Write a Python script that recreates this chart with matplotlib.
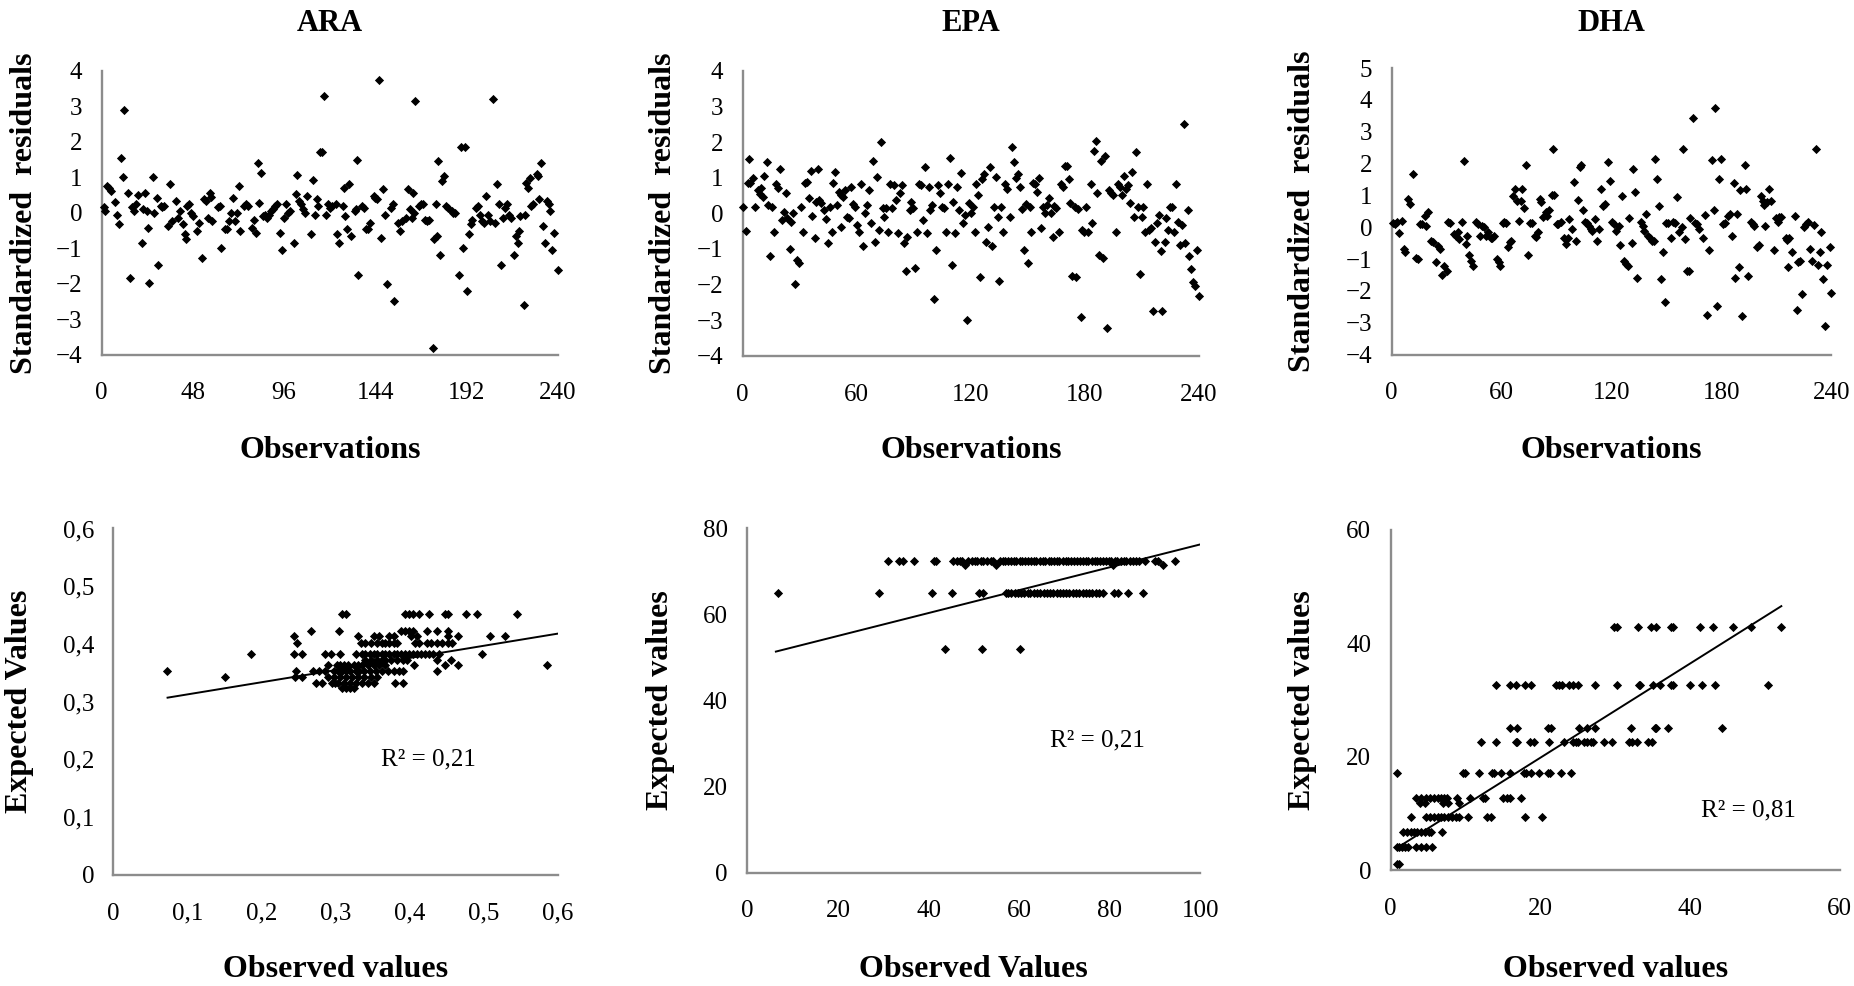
import numpy as np
import matplotlib
matplotlib.use("Agg")
import matplotlib.pyplot as plt
from matplotlib.ticker import FuncFormatter

plt.rcParams['font.family'] = ['Liberation Serif', 'DejaVu Serif']

# ---------------- standardized residuals (top row) ----------------
ara_obs = [1, 2, 3, 4, 5, 7, 8, 9, 10, 11,
           12, 14, 15, 16, 17, 18, 19, 21, 22, 23,
           24, 24.5, 25, 27, 27.5, 29, 29.5, 31, 32, 33,
           35, 36, 37, 39, 40, 41, 43, 44, 44.5, 45,
           46, 47, 48, 50, 51, 53, 54, 55, 56, 57,
           57.5, 58, 61, 62, 63, 65, 66, 67, 68, 69,
           70, 71, 72, 73, 75, 76, 77, 79, 80, 81,
           82, 83, 84, 85, 86, 87, 88, 89, 90, 91,
           92, 94, 95, 96, 97, 98, 99, 101, 102, 103,
           104, 105, 106, 107, 108, 110, 111, 112, 113, 114,
           115, 116, 117, 118, 119, 120, 121, 123, 124, 125,
           127, 127.5, 128, 129, 130, 131, 133, 134, 134.5, 135,
           137, 138, 139, 140, 141, 143, 144, 145, 146, 147,
           148, 149, 150, 152, 153, 154, 156, 157, 158, 160,
           161, 162, 163, 163.5, 164, 165, 167, 168, 169, 170,
           171, 172, 174, 175, 176, 176.5, 177, 178, 179, 180,
           181, 182, 184, 185, 186, 188, 189, 190, 191, 192,
           193, 194, 195, 197, 198, 199, 200, 201, 202, 203,
           204, 206, 207, 208, 209, 210, 211, 212, 213, 214,
           215, 217, 218, 219, 219.5, 220, 222, 222.5, 223, 224,
           225, 226, 227, 229, 229.5, 230, 231, 232, 233, 234,
           235, 236, 237, 238, 240]
ara_res = [0.15, 0.05, 0.75, 0.7, 0.6, 0.3, -0.05, -0.33, 1.55, 1.0,
           2.9, 0.55, -1.85, 0.15, 0.05, 0.25, 0.5, -0.85, 0.1, 0.55,
           0.05, -0.42, -1.98, 1.0, 0.0, 0.42, -1.46, 0.2, 0.15, 0.2,
           -0.38, 0.8, -0.24, 0.33, -0.14, 0.05, -0.33, -0.6, -0.75, 0.2,
           0.24, 0.0, -0.1, -0.52, -0.28, -1.27, 0.38, 0.33, -0.14, 0.55,
           0.45, -0.24, 0.15, 0.2, -0.99, -0.47, -0.47, -0.24, 0.0, 0.42,
           -0.24, 0.0, 0.75, -0.52, 0.2, 0.24, 0.2, -0.42, -0.19, -0.57,
           1.41, 0.28, 1.13, -0.1, -0.05, -0.15, -0.05, 0.05, 0.1, 0.2,
           0.24, -0.57, -1.04, -0.14, 0.24, 0.0, 0.05, -0.85, 0.52, 1.06,
           0.33, 0.24, 0.1, 0.0, 0.47, -0.61, 0.92, -0.05, 0.38, 0.2,
           1.7, 1.7, 3.3, -0.05, 0.24, 0.14, 0.2, 0.24, -0.61, -0.85,
           0.2, 0.71, -0.1, -0.47, 0.8, -0.66, 0.05, 0.1, 1.5, -1.75,
           0.2, 0.14, -0.47, -0.47, -0.28, 0.47, 0.42, 0.38, 3.75, -0.71,
           0.66, -0.05, -2.0, 0.14, 0.24, -2.5, -0.28, -0.52, -0.24, -0.14,
           0.66, 0.1, -0.14, 0.57, 0.0, 3.15, 0.2, 0.24, 0.24, -0.19,
           -0.24, -0.19, -3.8, -0.75, 0.24, -0.66, 1.46, -1.18, 0.9, 1.04,
           0.2, 0.14, 0.05, 0.0, 0.0, -1.75, 1.85, -0.99, 1.85, -2.2,
           -0.61, -0.33, -0.19, 0.14, 0.2, -0.05, -0.24, -0.28, 0.47, -0.05,
           -0.24, 3.2, -0.28, 0.8, 0.24, -1.46, -0.14, 0.14, 0.24, -0.05,
           -0.14, -1.18, -0.66, -0.85, -0.52, -0.1, -2.59, -0.05, 0.85, 0.7,
           0.99, 0.2, 0.24, 1.1, 1.04, 0.38, 1.41, -0.38, -0.85, 0.33,
           0.24, 0.05, -1.04, -0.57, -1.6]

epa_obs = [0.4, 1.6, 3, 4, 3.6, 5.4, 6.7, 8, 9, 9.7,
           10.7, 11.5, 12.7, 13.5, 14.5, 15.7, 16.7, 17.5, 18.6, 19.8,
           20.6, 21.6, 22.8, 23.4, 24.8, 25.6, 26.8, 27.6, 28.8, 29.6,
           30.9, 31.9, 32.7, 33.7, 34.7, 35.9, 36.7, 37.9, 38.7, 39.7,
           40.3, 41.3, 43, 43.8, 44.8, 45.8, 46.8, 47.8, 48.8, 49.8,
           50.8, 51.8, 52.8, 53.8, 51.8, 55, 56, 57, 58, 59,
           60, 61, 62.5, 63.5, 64.5, 65.5, 66.6, 67.6, 68.6, 69.6,
           70.6, 71.6, 72.6, 73.6, 74.6, 75.6, 76.6, 77.7, 78.7, 79.7,
           80.7, 81.9, 82.7, 83.7, 84.7, 85.7, 86.7, 87.8, 88.8, 89.8,
           90.8, 91.8, 92.8, 93.8, 94.8, 95.8, 96.8, 97.8, 98.8, 99.8,
           100.9, 101.9, 102.9, 103.9, 104.9, 105.9, 106.9, 107.9, 108.9, 109.9,
           110.9, 111.9, 112.9, 114, 115, 116, 117, 118, 119, 120,
           121, 122, 123, 124, 125, 126, 127, 128, 129, 130,
           131.1, 132.1, 133.1, 134.1, 135.1, 136.1, 137.1, 138.1, 139.2, 140.8,
           141.6, 142.6, 143.8, 144.8, 145.8, 146.8, 147.8, 148.9, 149.9, 150.9,
           151.9, 152.9, 153.9, 154.9, 155.9, 156.9, 157.9, 158.9, 160, 161,
           162, 163, 164, 165, 166.4, 167.4, 168.4, 169.4, 170.4, 171.4,
           172.4, 173.4, 174.9, 175.5, 176.5, 177.9, 178.5, 179.5, 180.5, 181.5,
           183, 184, 185, 185.6, 186.6, 187.6, 188.6, 189.6, 190.6, 191.6,
           192.6, 193.6, 195, 196.6, 197.6, 198.7, 199.7, 200.7, 201.7, 202.7,
           203.7, 204.7, 205.7, 206.7, 207.7, 208.8, 209.8, 210.8, 211.8, 212.8,
           213.8, 214.8, 215.8, 216.8, 217.8, 218.8, 219.8, 220.8, 221.9, 222.9,
           223.9, 224.9, 225.9, 226.9, 227.9, 228.9, 229.9, 230.9, 231.9, 232.9,
           234, 235, 236, 237, 238, 239, 240]
epa_res = [0.17, -0.5, 0.85, 0.85, 1.53, 1.0, 0.19, 0.65, 0.55, 0.7,
           0.46, 1.06, 1.45, 0.23, -1.19, 0.19, -0.51, 0.83, 0.72, 1.25,
           -0.2, 0.05, 0.57, -0.14, -0.99, -0.23, 0.0, -1.99, -1.3, -1.39,
           0.17, -0.51, 0.85, 0.88, 0.42, 1.2, -0.06, -0.68, 0.31, 1.25,
           0.37, 0.28, 0.09, -0.17, -0.83, 0.19, -0.51, 0.85, 1.16, 0.23,
           0.6, 0.51, 0.46, 0.65, -0.37, -0.09, -0.14, 0.74, 0.26, 0.19,
           -0.32, -0.51, 0.83, -0.93, 0.0, 0.23, 0.65, -0.28, 1.48, -0.79,
           1.02, -0.46, 1.99, 0.14, -0.09, 0.14, -0.51, 0.83, 0.14, 0.79,
           0.37, -0.56, 0.56, 0.79, -0.83, -1.62, -0.65, 0.09, 0.32, 0.14,
           -1.53, -0.51, 0.83, 0.79, -0.19, 1.3, -0.56, 0.74, 0.09, 0.23,
           -2.39, -1.02, 0.79, 0.56, 0.19, 0.14, -0.51, 0.83, 1.56, -1.46,
           0.32, -0.56, 0.74, 0.09, 1.13, -0.28, -0.05, -3.0, 0.28, 0.0,
           0.19, -0.51, 0.83, 0.51, -1.8, 0.97, 1.11, -0.79, -0.37, 1.3,
           -0.93, 0.19, 1.02, -0.09, -1.9, 0.19, -0.51, 0.83, 0.69, -0.09,
           1.85, 1.44, 0.99, 1.11, 0.74, 0.11, -1.02, 0.26, -1.39, 0.19,
           -0.51, 0.85, 0.83, 0.6, 0.99, -0.42, 0.19, 0.0, 0.23, 0.42,
           0.0, -0.65, 0.2, 0.14, -0.51, 0.83, 0.74, 1.34, 1.34, 0.97,
           0.28, -1.76, 0.19, -1.8, 0.11, -2.92, -0.46, -0.51, 0.19, -0.51,
           0.83, -0.28, 1.76, 2.02, 0.56, -1.16, 1.48, -1.25, 1.62, -3.22,
           0.65, 0.56, 0.51, -0.51, 0.83, 0.74, 0.51, 1.06, 0.69, 0.79,
           0.28, 1.16, -0.09, 1.71, 0.19, -1.69, -0.09, 0.19, -0.51, 0.83,
           -0.46, -0.42, -2.73, -0.79, -0.26, -0.05, -1.06, -2.73, -0.79, -0.14,
           -0.46, 0.19, 0.19, -0.51, 0.83, -0.23, -0.88, -0.32, 2.52, -0.83,
           0.09, -1.2, -1.57, -1.94, -2.04, -1.02, -2.33]

dha_obs = [0.6, 2, 3, 4, 5.4, 6.6, 7.4, 9, 10, 11.4,
           13.4, 14.4, 15.4, 16.6, 18, 19, 20, 21.6, 22.6, 24,
           25.4, 26.4, 27.4, 28.6, 30, 31, 32, 34, 35, 36,
           37, 38.4, 39.4, 40.4, 41.4, 42.4, 43.4, 44.4, 46, 47,
           48.4, 49.6, 50.6, 51.6, 52.6, 54, 55, 56, 57.4, 58.4,
           59.4, 60.6, 61.6, 62.6, 63.4, 64.6, 65.4, 66.4, 67.4, 68.6,
           69.4, 70.4, 71.4, 72.4, 73.6, 74.6, 75.6, 76.6, 78, 78.6,
           80, 81, 81.6, 82.4, 84, 85, 86, 87.4, 88.6, 88,
           90, 91, 92.6, 94, 95, 96, 97, 98.4, 99.4, 100.6,
           101.6, 102.6, 103.4, 104.6, 105.6, 106.6, 107.6, 108.6, 109.6, 111,
           112, 113, 114.4, 115.4, 116.6, 118, 119.4, 120.4, 121.4, 122.6,
           124, 124.6, 126, 127, 128, 129, 129.6, 131, 132, 133,
           134, 136, 137, 138, 139, 140, 141, 142, 143, 144,
           145, 146, 147, 148, 149, 150, 151, 152.6, 153.6, 154.6,
           156, 157, 158.4, 159, 160, 161, 162.4, 162.6, 164.6, 165.6,
           166.6, 168, 170, 171, 172, 173, 175, 176, 176.6, 177.4,
           178.6, 179.6, 181, 182, 183.4, 184.6, 186, 187, 187.6, 188.6,
           189.4, 190.4, 191.4, 192.6, 193.6, 194.6, 196, 197, 198, 199.6,
           200.6, 201.6, 202.6, 203, 204, 205, 206, 207, 208.6, 209.6,
           210.6, 211.4, 212.6, 215, 216, 217, 216.5, 218.6, 220, 221,
           222, 223, 224, 225, 226, 227, 228.6, 229.6, 230.6, 231.6,
           232.6, 233.6, 234.6, 235.6, 236.6, 237.6, 239, 239.6]
dha_res = [0.14, 0.1, 0.16, -0.19, 0.21, -0.68, -0.76, 0.89, 0.74, 1.68,
           -0.95, -1.0, 0.1, 0.1, 0.37, 0.05, 0.49, -0.42, -0.47, -1.1,
           -0.58, -0.68, -1.5, -1.2, -1.37, 0.16, 0.14, -0.21, -0.26, -0.16,
           -0.37, 0.18, 2.07, -0.53, -0.28, -0.87, -1.05, -1.21, 0.16, 0.1,
           -0.26, 0.05, 0.0, -0.26, -0.16, -0.32, -0.32, -0.26, -1.0, -1.1,
           -1.21, 0.14, 0.16, 0.14, -0.63, -0.47, -0.42, 0.98, 1.21, 0.82,
           0.21, 0.84, 1.21, 0.6, 1.95, -0.86, 0.14, 0.14, -0.26, -0.29,
           -0.16, 0.89, 0.79, 0.32, 0.47, 0.37, 0.53, 1.0, 1.02, 2.45,
           0.1, 0.1, 0.16, -0.32, -0.53, -0.35, 0.26, -0.05, 1.42, -0.42,
           0.86, 1.89, 1.95, 0.53, 0.16, 0.14, 0.05, -0.05, -0.1, 0.26,
           -0.42, -0.05, 1.21, 0.68, 0.74, 2.05, 1.47, 0.16, 0.1, -0.1,
           0.05, -0.56, 0.97, -1.05, -1.16, -1.23, 0.28, -0.49, 1.84, 1.1,
           -1.58, 0.16, 0.05, -0.1, 0.42, -0.26, -0.35, -0.42, -0.42, 2.16,
           1.53, 0.68, -1.63, -0.76, -2.35, 0.14, 0.14, -0.32, 0.18, 0.14,
           0.95, -0.16, 0.0, 2.45, -0.37, -1.37, -1.37, 0.29, 3.44, 0.14,
           0.1, -0.05, -0.32, 0.4, -2.74, -0.72, 2.13, 0.53, 3.76, -2.47,
           1.53, 2.16, 0.1, 0.14, 0.37, 0.42, -0.26, 1.4, -1.58, 0.42,
           -1.26, 1.16, -2.79, 1.95, 1.21, -1.53, 0.16, 0.1, 0.05, -0.63,
           -0.56, 0.97, 0.84, 0.71, 0.05, 0.79, 1.21, 0.82, -0.7, 0.29,
           0.16, 0.32, 0.32, -0.32, -0.39, -0.32, -1.24, -0.76, 0.37, -2.6,
           -1.1, -1.05, -2.1, 0.0, 0.1, 0.16, -0.68, -1.05, 0.07, 2.47,
           -1.18, -0.79, -0.16, -1.63, -3.1, -1.18, -0.63, -2.05]

# ---------------- observed vs expected (bottom row) ----------------
# expected values come in a few discrete levels; observed values per level
ara_levels = [0.452, 0.422, 0.413, 0.402, 0.382, 0.372, 0.363, 0.353, 0.343, 0.333, 0.323]
ara_observed = [
    [0.309, 0.314, 0.394, 0.399, 0.404, 0.412, 0.426, 0.447, 0.452, 0.476, 0.491, 0.544],
    [0.266, 0.305, 0.388, 0.394, 0.399, 0.404, 0.423, 0.436, 0.452],
    [0.243, 0.33, 0.351, 0.359, 0.372, 0.378, 0.402, 0.41, 0.452, 0.465, 0.508, 0.528],
    [0.248, 0.334, 0.34, 0.348, 0.356, 0.362, 0.367, 0.372, 0.378, 0.383, 0.407, 0.412,
     0.423, 0.428, 0.436, 0.444, 0.452, 0.457],
    [0.186, 0.243, 0.255, 0.285, 0.293, 0.306, 0.327, 0.335, 0.34, 0.346, 0.351, 0.356,
     0.362, 0.367, 0.372, 0.378, 0.383, 0.388, 0.394, 0.399, 0.404, 0.41, 0.415, 0.42,
     0.426, 0.431, 0.439, 0.498],
    [0.34, 0.348, 0.356, 0.362, 0.367, 0.375, 0.383, 0.391, 0.396, 0.436, 0.456],
    [0.29, 0.301, 0.306, 0.311, 0.316, 0.324, 0.33, 0.335, 0.343, 0.351, 0.359, 0.367,
     0.406, 0.447, 0.465, 0.585],
    [0.072, 0.247, 0.269, 0.277, 0.285, 0.298, 0.303, 0.309, 0.314, 0.319, 0.327, 0.332,
     0.338, 0.346, 0.354, 0.362, 0.37, 0.378, 0.386, 0.391, 0.436],
    [0.151, 0.245, 0.255, 0.289, 0.298, 0.306, 0.314, 0.322, 0.33, 0.338, 0.348, 0.356],
    [0.274, 0.282, 0.295, 0.299, 0.303, 0.311, 0.319, 0.327, 0.335, 0.343, 0.351, 0.38, 0.391],
    [0.309, 0.314, 0.319, 0.324],
]
ara_fit = (0.2106, 0.2916)      # slope, intercept of the trend line
ara_fit_span = (0.073, 0.6)

epa_levels = [72.5, 71.5, 65.0, 52.0]
epa_observed = [
    [31.0, 33.5, 34.3, 36.7, 41.1, 41.7, 45.5, 46.2, 46.9, 47.4, 48.8, 49.5, 50.3, 50.8,
     51.6, 52.1, 52.9, 53.7, 54.2, 55.8, 56.4, 56.9, 57.6, 58.2, 58.9, 59.4, 60.2, 60.7,
     61.4, 62.0, 62.7, 63.3, 63.8, 64.6, 65.2, 65.7, 66.5, 67.1, 67.6, 68.4, 68.9, 69.6,
     70.3, 70.8, 71.5, 72.2, 72.7, 73.5, 74.0, 74.8, 75.3, 76.0, 76.7, 77.2, 77.9, 78.6,
     79.1, 79.8, 80.3, 81.2, 81.7, 82.4, 83.1, 83.6, 84.5, 85.1, 85.8, 86.4, 87.9, 90.0,
     90.6, 94.4],
    [48.1, 55.0, 80.8, 91.7],
    [6.7, 29.1, 40.7, 45.1, 51.2, 52.1, 57.0, 57.6, 58.3, 59.1, 59.8, 60.4, 61.1, 61.9,
     62.5, 63.3, 64.0, 64.6, 65.4, 66.1, 66.8, 67.5, 68.3, 69.0, 69.6, 70.4, 71.1, 71.8,
     72.6, 73.3, 74.0, 74.7, 75.5, 76.2, 76.9, 77.7, 78.6, 80.9, 81.8, 84.0, 87.3],
    [43.6, 51.9, 60.1],
]
epa_fit = (0.266, 49.7)
epa_fit_span = (6.3, 100)

dha_levels = [42.8, 32.6, 25.0, 22.5, 17.2, 12.8, 11.8, 9.3, 6.8, 4.0, 1.0]
dha_observed = [
    [29.9, 30.2, 33.1, 34.8, 35.5, 37.4, 37.7, 41.4, 43.1, 45.8, 48.2, 52.1],
    [14.1, 15.9, 16.8, 17.9, 18.7, 22.1, 22.5, 22.9, 23.9, 24.4, 25.1, 27.3, 30.3, 33.2,
     33.3, 35.0, 36.0, 37.4, 37.7, 40.0, 41.6, 43.3, 50.4],
    [15.9, 16.9, 21.0, 21.5, 25.2, 26.3, 27.3, 32.1, 35.3, 35.5, 37.1, 44.3],
    [12.1, 14.1, 16.7, 16.9, 18.6, 19.1, 21.2, 23.2, 24.4, 24.8, 25.1, 25.8, 26.2, 26.8,
     27.1, 28.5, 29.6, 31.9, 32.3, 32.9, 34.4, 34.9],
    [0.9, 9.7, 9.9, 11.8, 13.5, 13.8, 14.7, 16.0, 17.8, 18.1, 18.8, 19.9, 21.0, 21.3,
     22.8, 24.1],
    [3.4, 4.1, 4.8, 5.3, 5.8, 6.3, 6.8, 7.2, 7.5, 8.9, 10.6, 12.3, 12.6, 15.0, 15.5,
     15.9, 17.4],
    [3.9, 4.6, 7.0, 7.7, 9.2],
    [2.8, 4.8, 5.3, 5.8, 6.3, 6.8, 7.2, 7.7, 8.2, 8.7, 9.2, 10.4, 12.9, 13.4, 18.0, 20.2],
    [1.7, 2.2, 2.7, 3.1, 3.6, 4.1, 4.6, 5.1, 5.4, 6.9],
    [0.9, 1.2, 1.5, 1.9, 2.4, 3.4, 4.1, 4.8, 5.6],
    [0.9, 1.1],
]
dha_fit = (0.83, 3.2)
dha_fit_span = (1.45, 52.2)

titles = ["ARA", "EPA", "DHA"]


def flatten(levels, observed):
    xs, ys = [], []
    for lv, row in zip(levels, observed):
        xs += row
        ys += [lv] * len(row)
    return xs, ys


def style(ax):
    for s in ["top", "right"]:
        ax.spines[s].set_visible(False)
    for s in ["left", "bottom"]:
        ax.spines[s].set_color("#8c8c8c")
        ax.spines[s].set_linewidth(1.7)
    ax.tick_params(length=0, labelsize=18)
    ax.tick_params(axis="x", pad=20)
    ax.tick_params(axis="y", pad=14)


def comma(v, pos):
    if abs(v) < 1e-9:
        return "0"
    return ("%.1f" % v).replace(".", ",")


fig = plt.figure(figsize=(18.54, 9.86), dpi=100)

# top row
top_boxes = [[0.0548, 0.6403, 0.2462, 0.2878],
             [0.4005, 0.6391, 0.2462, 0.2890],
             [0.7506, 0.6403, 0.2372, 0.2906]]
top_data = [(ara_obs, ara_res, [0, 48, 96, 144, 192, 240], (-4, 4)),
            (epa_obs, epa_res, [0, 60, 120, 180, 240], (-4, 4)),
            (dha_obs, dha_res, [0, 60, 120, 180, 240], (-4, 5))]
ylab_x = [0.013, 0.358, 0.7027]

for i, (box, (xo, yr, xt, yl)) in enumerate(zip(top_boxes, top_data)):
    ax = fig.add_axes(box)
    ax.scatter(xo, yr, marker="D", s=22, color="black", linewidths=0, clip_on=False, zorder=3)
    ax.set_xlim(0, 240)
    ax.set_ylim(*yl)
    ax.set_xticks(xt)
    ax.set_yticks(range(yl[0], yl[1] + 1))
    style(ax)
    cx = box[0] + box[2] / 2
    fig.text(cx, 0.976, titles[i], ha="center", va="center", fontsize=22, fontweight="bold")
    fig.text(cx, 0.5436, "Observations", ha="center", va="center", fontsize=23, fontweight="bold")
    fig.text(ylab_x[i], box[1] + box[3] / 2, "Standardized  residuals", rotation=90,
             ha="center", va="center", fontsize=23, fontweight="bold")

# bottom row
bot_boxes = [[0.0612, 0.1127, 0.2398, 0.3513],
             [0.4031, 0.1151, 0.2443, 0.3489],
             [0.7500, 0.1175, 0.2423, 0.3453]]
bot_data = [(ara_levels, ara_observed, ara_fit, ara_fit_span, (0, 0.6), (0, 0.6), 0.1, 0.1,
             "Expected Values", "Observed values", (0.425, 0.2), "R² = 0,21"),
            (epa_levels, epa_observed, epa_fit, epa_fit_span, (0, 100), (0, 80), 20, 20,
             "Expected values", "Observed Values", (77.4, 30.6), "R² = 0,21"),
            (dha_levels, dha_observed, dha_fit, dha_fit_span, (0, 60), (0, 60), 20, 20,
             "Expected values", "Observed values", (47.8, 10.6), "R² = 0,81")]
bylab_x = [0.0105, 0.3565, 0.7027]

for i, (box, d) in enumerate(zip(bot_boxes, bot_data)):
    levels, observed, fit, span, xl, yl, xs, ys, ylab, xlab, rpos, rtxt = d
    ax = fig.add_axes(box)
    ox, ey = flatten(levels, observed)
    ax.scatter(ox, ey, marker="D", s=22, color="black", linewidths=0, clip_on=False, zorder=3)
    fx = np.array(span)
    ax.plot(fx, fit[0] * fx + fit[1], color="black", lw=1.4, zorder=2)
    ax.set_xlim(*xl)
    ax.set_ylim(*yl)
    ax.set_xticks(np.arange(xl[0], xl[1] + xs / 2, xs))
    ax.set_yticks(np.arange(yl[0], yl[1] + ys / 2, ys))
    if i == 0:
        ax.xaxis.set_major_formatter(FuncFormatter(comma))
        ax.yaxis.set_major_formatter(FuncFormatter(comma))
    style(ax)
    ax.text(rpos[0], rpos[1], rtxt, ha="center", va="center", fontsize=18)
    cx = box[0] + box[2] / 2
    fig.text(cx, 0.0165, xlab, ha="center", va="center", fontsize=23, fontweight="bold")
    fig.text(bylab_x[i], box[1] + box[3] / 2, ylab, rotation=90,
             ha="center", va="center", fontsize=23, fontweight="bold")

fig.savefig("out.png", dpi=100)
